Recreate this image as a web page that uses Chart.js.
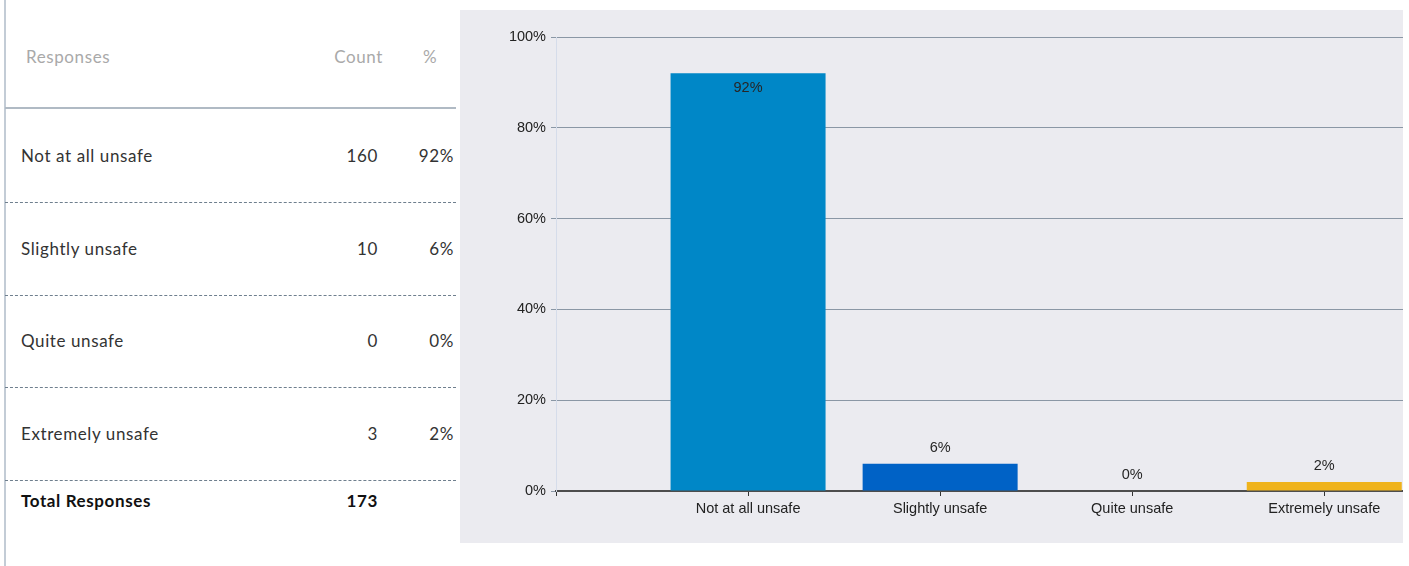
<!DOCTYPE html>
<html>
<head>
<meta charset="utf-8">
<script src="https://cdn.jsdelivr.net/npm/chart.js@4/dist/chart.umd.min.js"></script>
<style>
  html, body { margin: 0; padding: 0; background: #fff; width: 1409px; height: 566px; overflow: hidden; }
  #leftbar { position: absolute; left: 4px; top: 0; width: 2px; height: 566px; background: #c3ccd6; }
  .tbl { position: absolute; left: 5px; top: 0; width: 451px; height: 566px; font-family: "Lato", "Open Sans", sans-serif; }
  .cell { position: absolute; font-size: 17px; color: #333; line-height: 20px; white-space: nowrap; letter-spacing: 0.6px; }
  .hdr { color: #a9a9a9; }
  .sep { position: absolute; left: 0; width: 451px; height: 0; border-top: 1px dashed #6f7f8e; }
  .sepsolid { position: absolute; left: 0; width: 451px; height: 0; border-top: 2px solid #b0bac4; }
  #panel { position: absolute; left: 460px; top: 10px; width: 943px; height: 533px; background: #ebebf0; }
  #panel canvas { display: block; }
</style>
</head>
<body>
<div id="leftbar"></div>
<div class="tbl" id="tbl"></div>
<div id="panel"><canvas id="c" width="943" height="533"></canvas></div>
<script>
const categories = ["Not at all unsafe", "Slightly unsafe", "Quite unsafe", "Extremely unsafe"];
const counts = [160, 10, 0, 3];
const percents = [92, 6, 0, 2];
const totalResponses = 173;
const barColors = ["#0087c7", "#0062c6", "#4a8fd0", "#efb31c"];
const yTicks = [0, 20, 40, 60, 80, 100];
const headerLabels = ["Responses", "Count", "%"];

// ---- table ----
(function buildTable() {
  const t = document.getElementById('tbl');
  function add(text, left, top, cls, align, w) {
    const d = document.createElement('div');
    d.className = 'cell ' + (cls || '');
    d.textContent = text;
    d.style.top = (top - 10) + 'px';
    if (align === 'right') { d.style.left = (left - w) + 'px'; d.style.width = w + 'px'; d.style.textAlign = 'right'; }
    else if (align === 'center') { d.style.left = (left - w / 2) + 'px'; d.style.width = w + 'px'; d.style.textAlign = 'center'; }
    else d.style.left = left + 'px';
    t.appendChild(d);
    return d;
  }
  add(headerLabels[0], 21, 57, 'hdr');
  add(headerLabels[1], 378, 57, 'hdr', 'right', 80);
  add(headerLabels[2], 425, 57, 'hdr', 'center', 30);
  const s = document.createElement('div'); s.className = 'sepsolid'; s.style.top = '107px'; t.appendChild(s);
  const rowY = [156, 249, 341, 434];
  const sepY = [202, 295, 387, 480];
  categories.forEach((c, i) => {
    add(c, 16, rowY[i]);
    add(String(counts[i]), 373, rowY[i], '', 'right', 80);
    add(percents[i] + '%', 449, rowY[i], '', 'right', 80);
    const d = document.createElement('div'); d.className = 'sep'; d.style.top = sepY[i] + 'px'; t.appendChild(d);
  });
  const a = add('Total Responses', 16, 501); a.style.fontWeight = 'bold'; a.style.color = '#111';
  const b = add(String(totalResponses), 373, 501, '', 'right', 80); b.style.fontWeight = 'bold'; b.style.color = '#111';
})();

// ---- chart ----
const chartFontFamily = '"Liberation Sans", Arial, sans-serif';
const labelPlugin = {
  id: 'valueLabels',
  afterDatasetsDraw(chart) {
    const ctx = chart.ctx;
    const meta = chart.getDatasetMeta(0);
    ctx.save();
    ctx.font = '14.5px ' + chartFontFamily;
    ctx.fillStyle = '#262626';
    ctx.textAlign = 'center';
    ctx.textBaseline = 'middle';
    meta.data.forEach((el, i) => {
      const v = percents[i];
      const txt = v + '%';
      const y = v > 50 ? el.y + 15 : el.y - 16;
      ctx.fillText(txt, el.x, y);
    });
    ctx.restore();
  }
};

const font = { family: chartFontFamily, size: 14.5 };
new Chart(document.getElementById('c'), {
  type: 'bar',
  data: {
    datasets: [{
      data: categories.map((c, i) => ({ x: i + 1, y: percents[i] })),
      backgroundColor: barColors,
      borderWidth: 0,
      barPercentage: 1,
      categoryPercentage: 0.807
    }]
  },
  options: {
    responsive: false,
    animation: false,
    layout: { padding: { top: 27, left: 0, right: 0, bottom: 0 } },
    plugins: { legend: { display: false }, tooltip: { enabled: false } },
    scales: {
      x: {
        type: 'linear',
        min: 0,
        max: 4.41,
        offset: false,
        ticks: {
          stepSize: 1,
          includeBounds: false,
          autoSkip: false,
          maxRotation: 0,
          color: '#222',
          font: font,
          padding: 4,
          callback: (v) => (v >= 1 && v <= categories.length && Number.isInteger(v)) ? categories[v - 1] : ''
        },
        grid: { offset: false, drawOnChartArea: false, drawTicks: true, tickLength: 5, color: '#333', lineWidth: 1 },
        border: { display: true, color: '#4d4d4d', width: 2 },
        afterFit: (s) => { s.height = 52; }
      },
      y: {
        min: 0,
        max: 100,
        afterBuildTicks: (s) => { s.ticks = yTicks.map(v => ({ value: v })); },
        ticks: {
          color: '#222',
          font: font,
          padding: 5,
          callback: (v) => v + '%'
        },
        grid: { color: '#8a97a5', lineWidth: 1, drawTicks: true, tickLength: 5 },
        border: { display: true, color: '#d5dcea', width: 1 },
        afterFit: (s) => { s.width = 96; }
      }
    }
  },
  plugins: [labelPlugin]
});
</script>
</body>
</html>
